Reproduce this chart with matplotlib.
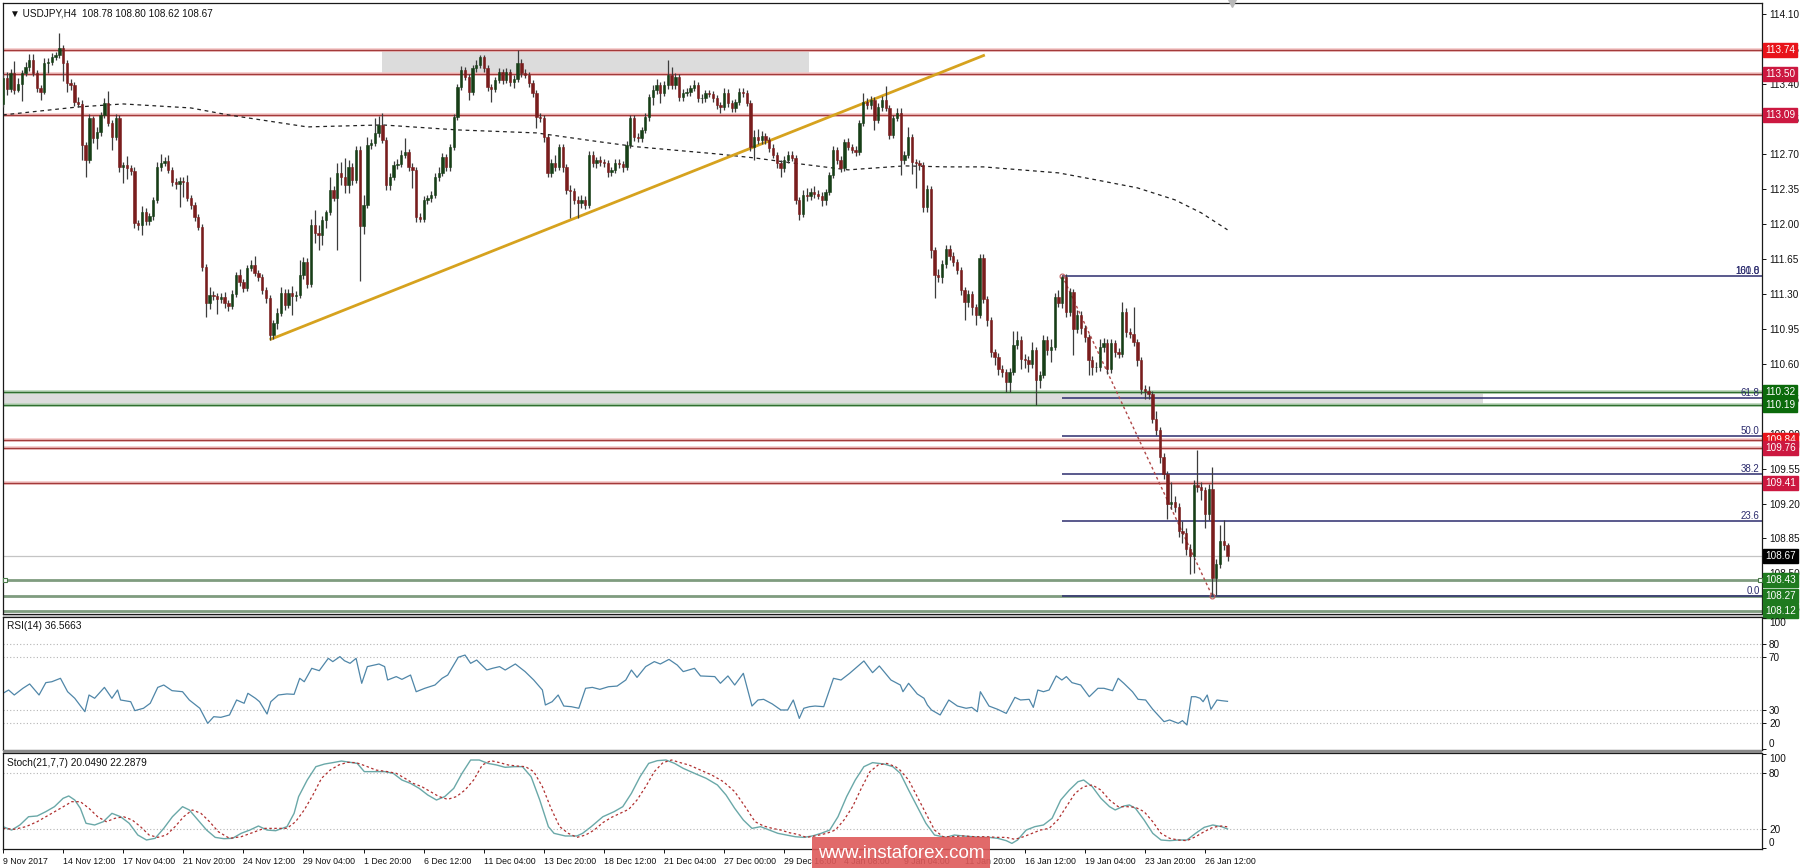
import matplotlib
matplotlib.use('Agg')
import matplotlib.pyplot as plt
from matplotlib.patches import Rectangle
import numpy as np

plt.rcParams['font.family'] = ['Liberation Sans', 'DejaVu Sans']

W, H = 1800, 868

# ---- price data (H4 candles, bar 0 = 9 Nov 20:00) ----
first_open = 113.20
closes = [
    113.46, 113.35, 113.51, 113.34, 113.40, 113.51, 113.57, 113.64, 113.51, 113.36,
    113.32, 113.61, 113.62, 113.67, 113.69, 113.76, 113.61, 113.41, 113.39, 113.22,
    113.20, 112.79, 112.64, 113.06, 112.86, 112.92, 113.09, 113.21, 113.01, 112.87,
    113.06, 112.57, 112.59, 112.56, 112.53, 112.01, 111.99, 112.12, 112.03, 112.08,
    112.24, 112.57, 112.61, 112.63, 112.54, 112.42, 112.40, 112.43, 112.42, 112.26,
    112.19, 112.07, 111.97, 111.57, 111.21, 111.29, 111.28, 111.25, 111.27, 111.21,
    111.18, 111.30, 111.49, 111.42, 111.36, 111.56, 111.59, 111.51, 111.47, 111.34,
    111.26, 110.89, 111.01, 111.11, 111.31, 111.19, 111.31, 111.28, 111.29, 111.49,
    111.62, 111.40, 111.99, 111.91, 111.89, 112.04, 112.12, 112.34, 112.26, 112.51,
    112.47, 112.39, 112.57, 112.44, 112.74, 111.98, 112.19, 112.79, 112.81, 112.91,
    112.99, 112.84, 112.39, 112.47, 112.59, 112.60, 112.69, 112.72, 112.57, 112.54,
    112.07, 112.05, 112.24, 112.26, 112.29, 112.47, 112.51, 112.67, 112.57, 112.77,
    113.07, 113.37, 113.54, 113.47, 113.32, 113.56, 113.59, 113.67, 113.56, 113.37,
    113.35, 113.44, 113.52, 113.44, 113.52, 113.42, 113.45, 113.61, 113.51, 113.49,
    113.41, 113.31, 113.07, 113.06, 112.87, 112.51, 112.61, 112.57, 112.77, 112.57,
    112.34, 112.33, 112.24, 112.21, 112.24, 112.19, 112.69, 112.61, 112.64, 112.62,
    112.61, 112.52, 112.54, 112.61, 112.60, 112.57, 112.79, 113.06, 112.87, 112.86,
    112.94, 113.07, 113.27, 113.34, 113.39, 113.31, 113.39, 113.49, 113.39, 113.47,
    113.27, 113.31, 113.32, 113.36, 113.39, 113.26, 113.26, 113.31, 113.30, 113.26,
    113.19, 113.17, 113.31, 113.21, 113.16, 113.22, 113.32, 113.31, 113.21, 112.77,
    112.87, 112.84, 112.88, 112.84, 112.76, 112.69, 112.61, 112.56, 112.64, 112.69,
    112.66, 112.24, 112.10, 112.29, 112.28, 112.32, 112.30, 112.28, 112.24, 112.32,
    112.49, 112.74, 112.64, 112.56, 112.82, 112.77, 112.74, 112.72, 113.01, 113.22,
    113.19, 113.24, 113.04, 113.17, 113.24, 113.16, 112.89, 113.06, 113.11, 112.64,
    112.69, 112.87, 112.62, 112.61, 112.59, 112.17, 112.35, 111.74, 111.49, 111.47,
    111.60, 111.75, 111.68, 111.62, 111.54, 111.34, 111.22, 111.30, 111.17, 111.09,
    111.66, 111.25, 111.04, 110.72, 110.67, 110.55, 110.52, 110.42, 110.52, 110.79,
    110.84, 110.65, 110.64, 110.60, 110.74, 110.44, 110.49, 110.84, 110.74, 110.77,
    111.27, 111.21, 111.47, 111.12, 111.32, 110.95, 111.09, 110.96, 110.87, 110.64,
    110.57, 110.57, 110.77, 110.81, 110.55, 110.81, 110.72, 110.70, 111.12, 110.92,
    110.90, 110.82, 110.64, 110.35, 110.33, 110.30, 110.05, 109.94, 109.67, 109.50,
    109.20, 109.22, 109.17, 108.92, 108.90, 108.74, 108.67, 109.39, 109.37, 109.34,
    109.10, 109.35, 108.45, 108.59, 108.82, 108.78, 108.67,
]
# wick lengths in pips, read candle by candle
up_wick_pips = [
    4, 6, 4, 12, 6, 3, 5, 6, 6, 3,  3, 5, 4, 4, 3, 15, 3, 3, 4, 3,
    5, 4, 3, 4, 2, 5, 3, 5, 12, 3,  4, 3, 3, 9, 3, 4, 3, 6, 4, 3,
    3, 5, 9, 4, 6, 3, 4, 4, 4, 7,  3, 3, 3, 3, 3, 8, 4, 3, 4, 5,
    3, 4, 3, 6, 3, 3, 5, 9, 3, 3,  3, 3, 3, 5, 6, 4, 4, 7, 4, 15,
    5, 4, 6, 15, 8, 4, 2, 13, 4, 10,  11, 19, 7, 4, 4, 4, 10, 8, 4, 15,
    9, 12, 3, 4, 4, 5, 5, 14, 3, 4,  3, 4, 4, 3, 4, 4, 6, 4, 3, 3,
    3, 3, 4, 3, 3, 3, 5, 2, 2, 3,  3, 3, 4, 3, 4, 3, 4, 13, 4, 4,
    3, 3, 3, 4, 3, 3, 4, 8, 3, 3,  3, 5, 3, 4, 5, 4, 4, 4, 3, 4,
    3, 3, 3, 4, 4, 3, 4, 3, 3, 4,  3, 4, 3, 5, 6, 3, 4, 15, 8, 4,
    3, 4, 4, 3, 5, 3, 4, 3, 3, 3,  3, 3, 5, 4, 3, 3, 4, 4, 3, 3,
    7, 8, 5, 3, 3, 4, 3, 3, 4, 4,  4, 3, 3, 5, 7, 4, 6, 4, 4, 3,
    3, 4, 3, 4, 3, 4, 3, 4, 3, 9,  4, 4, 3, 4, 4, 14, 3, 3, 5, 5,
    4, 10, 3, 3, 3, 3, 4, 3, 3, 6,  4, 4, 4, 4, 3, 3, 3, 4, 3, 3,
    4, 4, 3, 3, 3, 4, 4, 3, 4, 14,  9, 4, 5, 4, 8, 3, 4, 5, 4, 8,
    4, 7, 1, 3, 4, 3, 5, 4, 3, 3,  4, 5, 8, 5, 4, 4, 3, 4, 10, 4,
    4, 27, 3, 3, 4, 5, 3, 8, 3, 4,  3, 20, 6, 4, 10, 5, 5, 5, 35, 5,
    3, 5, 22, 5, 16, 21, 2,
]
down_wick_pips = [
    3, 6, 3, 4, 2, 17, 3, 4, 3, 4,  8, 2, 10, 3, 3, 3, 18, 9, 5, 4,
    3, 15, 17, 3, 5, 11, 4, 3, 3, 13,  3, 5, 16, 11, 4, 5, 5, 10, 4, 4,
    4, 3, 4, 3, 3, 4, 5, 23, 15, 3,  4, 4, 3, 4, 14, 6, 4, 15, 4, 5,
    5, 3, 3, 4, 4, 3, 3, 3, 4, 4,  5, 5, 4, 6, 3, 5, 3, 19, 5, 3,
    4, 4, 3, 10, 15, 10, 8, 3, 3, 52,  8, 8, 8, 5, 3, 55, 8, 3, 4, 3,
    4, 3, 5, 5, 3, 4, 3, 3, 4, 18,  5, 3, 3, 4, 4, 3, 4, 3, 4, 4,
    3, 3, 3, 3, 8, 3, 4, 3, 4, 4,  13, 3, 3, 4, 3, 4, 6, 3, 4, 3,
    4, 4, 11, 4, 5, 4, 4, 4, 3, 5,  4, 27, 4, 15, 5, 4, 3, 4, 5, 4,
    4, 5, 4, 3, 4, 5, 3, 3, 4, 4,  4, 3, 4, 8, 4, 10, 3, 4, 4, 4,
    4, 4, 3, 4, 3, 4, 5, 4, 3, 4,  4, 6, 3, 4, 4, 4, 3, 4, 3, 4,
    13, 4, 4, 4, 4, 3, 5, 9, 4, 3,  3, 4, 6, 3, 5, 4, 4, 3, 6, 5,
    3, 3, 4, 4, 3, 3, 3, 4, 3, 3,  4, 4, 10, 3, 4, 3, 4, 3, 3, 15,
    4, 3, 12, 25, 5, 5, 5, 8, 23, 5,  6, 4, 4, 4, 4, 5, 18, 5, 8, 10,
    3, 4, 6, 5, 8, 6, 5, 10, 10, 3,  4, 10, 8, 8, 4, 25, 8, 3, 5, 12,
    3, 4, 5, 5, 4, 26, 4, 6, 5, 15,  8, 5, 4, 5, 5, 4, 5, 4, 3, 5,
    4, 4, 6, 5, 8, 5, 4, 5, 6, 5,  15, 5, 5, 6, 10, 6, 18, 17, 5, 10,
    15, 6, 17, 17, 4, 5, 5,
]

# dashed moving average (bar, price)
ma_bars = [0, 20, 32, 50, 60, 81, 101, 121, 142, 159, 169, 190, 200, 210, 225,
           240, 251, 261, 271, 281, 291, 302, 312, 319, 326]
ma_vals = [113.09, 113.17, 113.20, 113.16, 113.09, 112.97, 112.99, 112.94, 112.91, 112.82,
           112.77, 112.70, 112.66, 112.61, 112.54, 112.58, 112.57, 112.57, 112.54, 112.51,
           112.44, 112.36, 112.24, 112.11, 111.94]

# RSI(14)
rsi_bars = [
    0, 1.5, 3, 5.3, 7.1, 9.6, 11.4, 13, 15.3, 17.2,
    19.1, 21.8, 22.9, 24.4, 27, 29, 30.5, 31.3, 34, 35.1,
    37.4, 39.2, 41.2, 42.8, 45, 47.8, 49.6, 52.4, 54.5, 56.1,
    58, 60.3, 62.2, 64.2, 65.2, 67.2, 68.3, 70.3, 71.3, 73.3,
    75.6, 77.5, 79, 80.2, 82.2, 84.2, 86.6, 87.8, 89.7, 90.9,
    92.4, 94, 95.5, 97, 100.1, 101.6, 102.4, 104.7, 106.2, 108.5,
    110, 112.3, 115, 116.9, 118.4, 121.2, 123, 124.5, 126.1, 128.8,
    130.3, 132.2, 133.7, 136.4, 139, 141.3, 143.6, 144.4, 146.2, 147.8,
    149.3, 151.3, 153.3, 155.1, 156.9, 158.9, 161.2, 163.5, 165.8, 167.3,
    168.8, 171.1, 173.4, 175, 177.3, 179.5, 181.1, 184.1, 185.7, 189.5,
    191, 193, 194.8, 197.1, 199.4, 201, 202.5, 204.8, 207.1, 208.9,
    210.4, 212, 213.2, 214.7, 216.2, 218.5, 221.1, 223.1, 225.4, 229.2,
    231.5, 233.3, 236.4, 238.9, 239.6, 241.1, 243.4, 245.2, 246.1, 247.2,
    249.5, 251.8, 254.1, 256.4, 257.9, 259.4, 260.2, 262.5, 264.8, 267.1,
    269.4, 270.9, 273.2, 274.3, 275.5, 277, 278.5, 280.4, 281.9, 283.1,
    284.6, 286.9, 289.2, 291.5, 293.1, 295.4, 296.9, 298.4, 300.7, 302.2,
    304.2, 306.1, 309.1, 310.6, 312.9, 314, 315.2, 316.4, 317.5, 318.7,
    319.5, 320.6, 321.6, 323.2, 324.4, 326,
]
rsi_vals = [
    42.7, 45.2, 41.4, 46.5, 49.8, 41.4, 50.8, 51.5, 54.1, 43.9,
    38.9, 28.7, 41.4, 38.9, 47.2, 38.9, 45.2, 37.6, 36.3, 29.5,
    31.3, 35.1, 47.2, 49.0, 44.7, 43.9, 37.6, 31.3, 19.8, 24.9,
    24.4, 26.2, 37.6, 35.1, 42.7, 38.9, 36.3, 26.9, 36.3, 41.4,
    42.2, 41.9, 54.1, 51.5, 61.7, 59.9, 69.3, 66.8, 70.6, 67.5,
    65.5, 69.3, 50.3, 63.0, 65.0, 63.0, 52.8, 55.4, 53.3, 56.6,
    43.9, 46.5, 49.0, 54.1, 56.6, 70.1, 71.8, 65.5, 68.0, 60.4,
    61.7, 63.0, 60.4, 65.0, 59.2, 52.8, 45.2, 33.8, 36.3, 41.4,
    33.0, 32.5, 31.3, 46.5, 47.2, 45.7, 47.7, 48.2, 52.8, 60.4,
    54.8, 63.0, 66.8, 65.0, 68.5, 64.2, 59.2, 61.7, 55.9, 55.4,
    50.3, 55.9, 49.0, 57.9, 33.0, 37.6, 38.1, 34.6, 30.0, 30.0,
    37.6, 23.6, 31.3, 32.5, 33.0, 32.5, 54.1, 52.8, 57.9, 67.3,
    58.4, 63.5, 52.8, 49.0, 43.9, 50.3, 42.2, 38.9, 33.8, 30.0,
    26.2, 37.6, 33.0, 31.3, 32.0, 28.7, 43.9, 33.0, 30.5, 27.4,
    39.6, 37.6, 38.1, 32.0, 45.2, 43.9, 45.2, 55.9, 52.8, 55.4,
    50.8, 49.0, 40.1, 46.5, 46.5, 44.7, 54.1, 50.3, 43.9, 38.1,
    37.6, 30.5, 21.1, 22.4, 19.8, 21.9, 18.6, 40.1, 40.1, 38.9,
    36.3, 41.4, 30.5, 37.6, 37.1, 36.57,
]

# Stochastic(21,7,7): main and signal
stoch_main_bars = [
    0, 2.3, 4.5, 6.8, 9.1, 11.4, 13.7, 16, 17.5, 19.1,
    20.6, 22.1, 24.4, 26.7, 29, 31.3, 33.6, 35.9, 38.2, 40.5,
    42.8, 45.1, 47.8, 49.6, 51.9, 54.2, 56.5, 58.8, 61.1, 63.4,
    65.7, 68, 70.3, 72.6, 75.6, 77.5, 78.7, 81, 83.3, 85.6,
    87.8, 90.1, 92.4, 94.3, 96.2, 98.5, 101.6, 103.9, 106.2, 108.5,
    110.8, 113.1, 115.4, 117.6, 120, 122.2, 124.5, 126.8, 129.1, 131.4,
    133.7, 136, 138.3, 140.6, 142.9, 145.2, 146.7, 149.7, 152.8, 154.3,
    156.6, 159.7, 162.7, 165, 167.3, 169.6, 171.9, 174.2, 176.5, 178.8,
    181.1, 184.1, 187.2, 190.2, 192.5, 194.8, 197.1, 199.4, 201.7, 204,
    206.3, 208.6, 210.9, 213.2, 215.5, 217.8, 220.1, 222.3, 224.6, 226.9,
    229.2, 231.5, 234.6, 236.9, 238.9, 241.1, 243.4, 245.7, 248, 251,
    253.3, 255.6, 257.9, 260.2, 262.5, 264.8, 267.1, 268.6, 270.1, 272.4,
    274.7, 277, 279.3, 281.6, 283.9, 286.2, 287.7, 290, 292.3, 294.6,
    296.1, 298.4, 299.9, 301.5, 303.8, 306.1, 308.3, 310.6, 312.9, 315.2,
    317.5, 319.8, 322.1, 324.4, 326,
]
stoch_main_vals = [
    22.5, 18.9, 24.3, 33.1, 33.9, 38.5, 43.8, 52.7, 55.2, 50.9,
    42.0, 26.1, 24.3, 27.8, 36.7, 33.1, 26.1, 13.6, 8.3, 10.1,
    20.7, 33.1, 43.8, 40.3, 29.6, 18.9, 11.1, 9.7, 10.1, 15.4,
    18.9, 23.2, 18.9, 18.2, 22.5, 36.7, 54.5, 72.2, 86.4, 89.2,
    90.7, 92.4, 91.0, 89.9, 81.1, 81.1, 81.1, 79.3, 72.2, 68.6,
    63.3, 56.2, 50.9, 54.5, 63.3, 79.3, 93.5, 93.5, 89.9, 88.2,
    85.7, 86.4, 86.4, 75.7, 50.9, 22.5, 15.4, 12.6, 12.6, 15.4,
    22.5, 33.1, 38.5, 43.8, 58.0, 75.7, 89.9, 92.8, 93.5, 89.9,
    84.6, 79.3, 74.0, 66.9, 56.2, 42.0, 29.6, 20.7, 22.5, 18.9,
    15.4, 13.6, 11.8, 11.1, 12.6, 15.4, 18.9, 33.1, 54.5, 72.2,
    86.4, 90.7, 89.2, 86.4, 79.3, 61.5, 43.8, 26.1, 13.6, 11.1,
    13.6, 12.6, 11.8, 11.1, 11.1, 10.1, 7.6, 4.7, 8.3, 18.9,
    22.5, 24.3, 31.4, 50.9, 61.5, 70.4, 72.2, 65.1, 52.7, 43.8,
    40.3, 44.5, 45.6, 42.0, 29.6, 15.4, 8.3, 7.6, 8.3, 8.3,
    15.4, 21.8, 24.3, 22.5, 20.05,
]
stoch_sig_bars = [
    0, 3, 6.1, 9.1, 12.2, 15.3, 18.3, 20.6, 22.9, 25.2,
    27.5, 29.8, 32.1, 34.4, 36.6, 38.9, 41.2, 43.5, 45.8, 48.1,
    50.4, 52.7, 55, 57.3, 60.3, 63.4, 66.4, 69.5, 72.6, 75.6,
    77.9, 80.2, 82.5, 84.8, 87.1, 89.4, 91.7, 94, 96.3, 99.3,
    102.4, 104.7, 107, 109.2, 111.5, 113.8, 116.1, 118.4, 120.7, 123,
    125.3, 127.6, 129.9, 132.2, 134.5, 136.8, 139.1, 141.3, 143.6, 145.9,
    148.2, 150.5, 152.8, 155.1, 157.4, 159.7, 162, 164.3, 166.6, 168.8,
    171.1, 173.4, 175.7, 178, 180.3, 182.6, 185.7, 188.7, 191.8, 194.8,
    197.9, 200.2, 202.5, 204.8, 207.1, 209.3, 211.6, 213.9, 216.2, 219.3,
    221.6, 223.9, 226.2, 228.5, 230.8, 233, 235.3, 237.6, 238.8, 241.1,
    243.4, 245.7, 248, 250.3, 252.6, 255.6, 258.7, 261.7, 264.8, 267.1,
    269.4, 271.7, 274, 276.2, 278.5, 280.8, 283.1, 285.4, 287.7, 290,
    292.3, 294.6, 296.9, 299.2, 301.5, 303.8, 306.1, 308.3, 310.6, 312.9,
    315.2, 317.5, 319.8, 322.1, 324.4, 326,
]
stoch_sig_vals = [
    20.7, 19.7, 22.5, 27.8, 34.9, 42.0, 49.1, 49.1, 42.0, 33.1,
    27.8, 31.4, 33.1, 29.6, 22.5, 13.6, 11.1, 13.6, 22.5, 33.1,
    40.3, 36.7, 27.8, 17.2, 10.1, 11.8, 16.1, 20.7, 20.7, 20.7,
    27.8, 40.3, 56.2, 74.0, 82.8, 88.2, 91.0, 90.7, 87.5, 82.8,
    81.1, 79.3, 74.0, 68.6, 65.1, 59.8, 54.5, 51.6, 54.5, 61.5,
    72.2, 88.2, 92.8, 90.7, 88.2, 87.1, 86.4, 81.1, 65.1, 42.0,
    22.5, 15.4, 11.1, 13.6, 18.9, 26.8, 32.4, 36.7, 41.0, 50.9,
    65.1, 81.1, 90.7, 93.5, 90.7, 88.2, 82.8, 77.5, 70.4, 59.8,
    42.0, 27.8, 23.2, 20.7, 18.9, 16.1, 14.3, 11.1, 12.6, 15.4,
    18.9, 29.6, 43.8, 63.3, 81.1, 88.2, 89.9, 86.4, 82.8, 72.2,
    54.5, 36.7, 18.9, 11.8, 11.8, 12.6, 11.8, 11.8, 11.1, 11.1,
    9.0, 11.8, 15.4, 18.9, 20.7, 29.6, 43.8, 58.0, 65.1, 66.9,
    61.5, 50.9, 43.8, 43.8, 43.1, 38.5, 27.8, 15.4, 10.1, 8.3,
    7.6, 11.8, 17.2, 21.8, 23.2, 22.29,
]

price_ticks = [114.10, 113.75, 113.40, 113.05, 112.70, 112.35, 112.00, 111.65, 111.30,
               110.95, 110.60, 110.25, 109.90, 109.55, 109.20, 108.85, 108.50, 108.15]
date_bars = list(range(0, 321, 16))
date_labels = ['9 Nov 2017', '14 Nov 12:00', '17 Nov 04:00', '21 Nov 20:00', '24 Nov 12:00',
               '29 Nov 04:00', '1 Dec 20:00', '6 Dec 12:00', '11 Dec 04:00', '13 Dec 20:00',
               '18 Dec 12:00', '21 Dec 04:00', '27 Dec 00:00', '29 Dec 16:00', '4 Jan 08:00',
               '9 Jan 04:00', '11 Jan 20:00', '16 Jan 12:00', '19 Jan 04:00', '23 Jan 20:00',
               '26 Jan 12:00']

# horizontal levels and their price tags
red_levels = [113.74, 113.50, 113.09, 109.84, 109.76, 109.41]
red_tag_colors = ['#e8141b', '#cc1840', '#cc1840', '#e8141b', '#cc1840', '#cc1840']
green_zone_levels = [110.32, 110.19]
green_levels = [108.43, 108.27, 108.12]
last_price = 108.67

# fibonacci retracement drawn from the 111.48 high to the 108.27 low
fib_bars = [282, 322]
fib_prices = [111.48, 108.27]
fib_ratios = [0.0, 23.6, 38.2, 50.0, 61.8, 100.0]

trend_bars = [71, 261.4]
trend_prices = [110.84, 113.69]

top_zone = (101, 214.6, 113.50, 113.74)
mid_zone = (0, 394, 110.19, 110.32)

X_RIGHT = 468.3
P_LO, P_HI = 108.094, 114.2105

# ---- derived ohlc ----
closes = np.array(closes)
assert len(closes) == len(up_wick_pips) == len(down_wick_pips)
opens = np.concatenate([[first_open], closes[:-1]])
highs = np.maximum(opens, closes) + np.array(up_wick_pips) / 100.0
lows = np.minimum(opens, closes) - np.array(down_wick_pips) / 100.0
bars = np.arange(len(closes))


def px_rect(top, bottom, left=3, right=1762):
    return [left / W, 1 - bottom / H, (right - left) / W, (bottom - top) / H]


fig = plt.figure(figsize=(W / 100, H / 100), dpi=100)
fig.patch.set_facecolor('white')
ax = fig.add_axes(px_rect(3, 614))
ax_rsi = fig.add_axes(px_rect(617, 750), sharex=ax)
ax_st = fig.add_axes(px_rect(753, 849), sharex=ax)

TICK_FS = 7.2
for a in (ax, ax_rsi, ax_st):
    for s in a.spines.values():
        s.set_color('#1a1a1a')
        s.set_linewidth(0.9)
    a.yaxis.tick_right()
    a.tick_params(axis='y', direction='out', length=3, width=0.7, pad=2,
                  labelsize=TICK_FS, colors='#111111')
    a.tick_params(axis='x', bottom=False, labelbottom=False)
    a.set_xlim(0, X_RIGHT)

# ---- main panel ----
ax.set_ylim(P_LO, P_HI)
ax.set_yticks(price_ticks)
ax.set_yticklabels([f'{t:.2f}' for t in price_ticks])

ax.add_patch(Rectangle((top_zone[0], top_zone[2]), top_zone[1] - top_zone[0],
                       top_zone[3] - top_zone[2], fc='#dcdcdc', ec='none', zorder=0.5))
ax.add_patch(Rectangle((mid_zone[0], mid_zone[2]), mid_zone[1] - mid_zone[0],
                       mid_zone[3] - mid_zone[2], fc='#dcdcdc', ec='none', zorder=0.5))

for lvl in red_levels:
    ax.axhline(lvl, color='#f3c6c6', lw=2.6, zorder=1)
    ax.axhline(lvl, color='#a33a3a', lw=1.0, zorder=1.1)
for lvl in green_zone_levels:
    ax.axhline(lvl, color='#b8d4b8', lw=2.6, zorder=1)
    ax.axhline(lvl, color='#2f6f2f', lw=1.0, zorder=1.1)
for lvl in green_levels:
    ax.axhline(lvl, color='#7f9c7f', lw=2.0, zorder=1)
ax.axhline(last_price, color='#c4c4c4', lw=0.9, zorder=1)

# fib levels
fib_hi, fib_lo = fib_prices
for r in fib_ratios:
    lvl = fib_lo + (fib_hi - fib_lo) * r / 100.0
    ax.hlines(lvl, fib_bars[0], X_RIGHT, color='#2c2c6e', lw=1.1, zorder=1.2)
    ax.text(X_RIGHT - 0.6, lvl, f'{r:.1f}', ha='right', va='bottom', fontsize=7,
            color='#2c2c6e', zorder=5)
ax.text(X_RIGHT - 0.6, fib_hi, '161.8', ha='right', va='bottom', fontsize=7,
        color='#2c2c6e', zorder=5)
ax.plot(fib_bars, fib_prices, color='#b04848', lw=1.0, ls=(0, (2, 2)), zorder=3)
ax.plot(fib_bars, fib_prices, ls='none', marker='o', ms=3.5, mfc='none',
        mec='#c06060', mew=0.8, zorder=3)

# moving average
ax.plot(ma_bars, ma_vals, color='#222222', lw=0.9, ls=(0, (3, 3)), zorder=2)

# golden trend line
ax.plot(trend_bars, trend_prices, color='#d6a21e', lw=2.0, zorder=2.2,
        solid_capstyle='butt')

# candles
bull = closes >= opens
body_col = np.where(bull, '#173f17', '#7a1d1d')
ax.vlines(bars, lows, highs, color='#3c3c3c', lw=0.9, zorder=3)
ax.bar(bars, closes - opens, bottom=opens, width=0.62, color=body_col,
       edgecolor=body_col, linewidth=0.4, zorder=3.2)

# small square markers of the 108.43 line
ax.plot([0.6, X_RIGHT - 0.6], [green_levels[0]] * 2, ls='none', marker='s', ms=3.5,
        mfc='white', mec='#4a7a4a', mew=0.8, zorder=4, clip_on=False)

# chart-shift marker at the top
ax.plot([327.2], [P_HI], marker='v', ms=6, color='#b8b8b8', zorder=5, clip_on=False)


def tag(axis, y, text, color):
    axis.text(1.0017, y, text, transform=axis.get_yaxis_transform(), fontsize=TICK_FS,
              color='white', va='center', ha='left', zorder=20, clip_on=False,
              bbox=dict(boxstyle='square,pad=0.2', fc=color, ec=color))


for lvl, c in zip(red_levels, red_tag_colors):
    tag(ax, lvl, f'{lvl:.2f}', c)
for lvl in green_zone_levels:
    tag(ax, lvl, f'{lvl:.2f}', '#0b6a0b')
for lvl in green_levels:
    tag(ax, lvl, f'{lvl:.2f}', '#1f7a1f')
tag(ax, last_price, f'{last_price:.2f}', '#000000')

ax.text(0.004, 0.983, '\u25BC USDJPY,H4  108.78 108.80 108.62 108.67',
        transform=ax.transAxes, fontsize=7.2, va='center', ha='left', color='#111111')

# ---- RSI panel ----
ax_rsi.set_ylim(-0.46, 100.76)
for lvl in (80, 70, 30, 20):
    ax_rsi.axhline(lvl, color='#b4b4b4', lw=0.8, ls=(0, (1, 2)))
ax_rsi.plot(rsi_bars, rsi_vals, color='#4f86a8', lw=0.9)
rsi_ticks = [100, 80, 70, 30, 20, 0]
ax_rsi.set_yticks(rsi_ticks)
ax_rsi.set_yticklabels([str(t) for t in rsi_ticks])
ax_rsi.get_yticklabels()[0].set_va('top')
ax_rsi.get_yticklabels()[-1].set_va('bottom')
ax_rsi.text(0.002, 0.93, 'RSI(14) 36.5663', transform=ax_rsi.transAxes,
            fontsize=7.3, va='center', ha='left', color='#111111')

# ---- Stochastic panel ----
ax_st.set_ylim(-1.28, 100.96)
for lvl in (80, 20):
    ax_st.axhline(lvl, color='#b4b4b4', lw=0.8, ls=(0, (1, 2)))
ax_st.plot(stoch_main_bars, stoch_main_vals, color='#6aa8a8', lw=1.0)
ax_st.plot(stoch_sig_bars, stoch_sig_vals, color='#b03030', lw=0.9, ls=(0, (2, 2)))
st_ticks = [100, 80, 20, 0]
ax_st.set_yticks(st_ticks)
ax_st.set_yticklabels([str(t) for t in st_ticks])
ax_st.get_yticklabels()[0].set_va('top')
ax_st.get_yticklabels()[-1].set_va('bottom')
ax_st.text(0.002, 0.9, 'Stoch(21,7,7) 20.0490 22.2879', transform=ax_st.transAxes,
           fontsize=7.3, va='center', ha='left', color='#111111')

# date axis: left-aligned labels, small font so they keep gaps between them
ax_st.tick_params(axis='x', bottom=True, labelbottom=True, direction='out', length=3,
                  width=0.7, pad=2.5, labelsize=6.3, colors='#111111')
ax_st.set_xticks(date_bars)
ax_st.set_xticklabels(date_labels)
for lbl in ax_st.get_xticklabels():
    lbl.set_ha('left')

# separators between the windows
fig.add_artist(Rectangle((3 / W, 1 - 617 / H), 1759 / W, 3 / H, transform=fig.transFigure,
                         fc='#d0d0d0', ec='none', zorder=-1))
fig.add_artist(Rectangle((3 / W, 1 - 753 / H), 1759 / W, 3 / H, transform=fig.transFigure,
                         fc='#8a8a8a', ec='none', zorder=5))

# watermark
fig.add_artist(Rectangle((812 / W, 0), 178 / W, 31 / H, transform=fig.transFigure,
                         fc='#de5a5a', ec='none', alpha=0.9, zorder=10))
fig.text(901 / W, 15 / H, 'www.instaforex.com', ha='center', va='center', color='white',
         fontsize=13.5, zorder=11)

fig.savefig('out.png', dpi=100, facecolor='white')
